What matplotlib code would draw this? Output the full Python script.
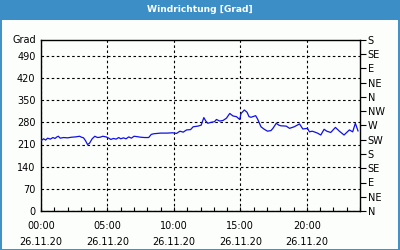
import matplotlib
matplotlib.use('Agg')
import matplotlib.pyplot as plt
from matplotlib.patches import Rectangle
import numpy as np

plt.rcParams['font.family'] = ['DejaVu Sans']

BLUE_BAR = '#3B8FC6'
LINE = '#1010E8'

# ── Data (hours since 00:00, wind direction in degrees) ──
hours = [0.0, 0.2, 0.35, 0.5, 0.7, 0.9, 1.05, 1.2, 1.3, 1.45, 1.7, 2.0, 2.3, 2.6,
         2.9, 3.05, 3.2, 3.35, 3.5, 3.65, 3.85, 4.05, 4.25, 4.45, 4.65, 4.9, 5.1,
         5.25, 5.45, 5.65, 5.85, 6.0, 6.2, 6.4, 6.6, 6.8, 7.0, 7.2, 7.5, 7.8, 8.1,
         8.3, 8.5, 9.0, 9.5, 9.9, 10.2, 10.45, 10.7, 10.95, 11.25, 11.45, 11.8,
         12.05, 12.25, 12.4, 12.55, 12.8, 13.05, 13.2, 13.45, 13.7, 13.95, 14.2,
         14.45, 14.7, 14.95, 15.05, 15.3, 15.5, 15.65, 15.8, 16.15, 16.3, 16.55,
         16.8, 17.05, 17.3, 17.45, 17.7, 17.9, 18.05, 18.45, 18.7, 19.05, 19.45,
         19.7, 20.05, 20.2, 20.4, 20.55, 20.8, 21.05, 21.3, 21.5, 21.8, 22.15,
         22.45, 22.8, 23.2, 23.45, 23.65, 23.85]
direction = [222, 228, 224, 230, 227, 232, 229, 234, 236, 230, 232, 231, 233, 234,
             236, 233, 231, 222, 210, 214, 228, 236, 232, 233, 236, 234, 230,
             226, 229, 227, 232, 228, 231, 228, 234, 230, 236, 235, 233, 232, 232,
             242, 244, 246, 246, 247, 245, 252, 249, 256, 257, 266, 268,
             271, 295, 284, 277, 280, 282, 289, 284, 286, 293, 308,
             300, 298, 289, 308, 319, 312, 298, 296, 301, 290, 266,
             258, 252, 254, 261, 277, 271, 269, 268, 261, 266, 275,
             259, 261, 250, 252, 250, 246, 240, 258, 252, 248, 264,
             252, 240, 256, 250, 277, 253]

left_ticks = [0, 70, 140, 210, 280, 350, 420, 490]
right_ticks = [0, 45, 90, 135, 180, 225, 270, 315, 360, 405, 450, 495, 540]
right_labels = ['N', 'NE', 'E', 'SE', 'S', 'SW', 'W', 'NW', 'N', 'NE', 'E', 'SE', 'S']
x_ticks = [0, 5, 10, 15, 20]
x_labels = ['00:00\n26.11.20', '05:00\n26.11.20', '10:00\n26.11.20',
            '15:00\n26.11.20', '20:00\n26.11.20']

fig = plt.figure(figsize=(4, 2.5), dpi=100, facecolor='#FCFEFC')

# title bar + frame
fig.patches.append(Rectangle((0, 1 - 20 / 250), 1, 20 / 250, transform=fig.transFigure,
                             facecolor=BLUE_BAR, edgecolor='none', zorder=0))
fig.patches.append(Rectangle((0.5 / 400, 0.5 / 250), 1 - 1.5 / 400, 1 - 1.5 / 250,
                             transform=fig.transFigure, facecolor='none',
                             edgecolor=BLUE_BAR, linewidth=1.4, zorder=0))
fig.text(0.5, 1 - 10 / 250, 'Windrichtung [Grad]', ha='center', va='center',
         color='white', fontsize=6.6, fontweight='bold')

ax = fig.add_axes([41 / 400, 1 - 211 / 250, 319 / 400, 171 / 250])
ax.set_facecolor('#FCFEFC')
ax.plot(hours, direction, color=LINE, linewidth=0.9, zorder=3)

ax.set_xlim(0, 24)
ax.set_ylim(0, 540)
ax.set_yticks(left_ticks)
ax.set_xticks(x_ticks)
ax.set_xticklabels(x_labels, linespacing=1.75)
ax.set_xticks(np.arange(0, 25, 1), minor=True)
ax.tick_params(axis='y', length=0, pad=4, labelsize=7, colors='black')
ax.tick_params(axis='x', which='both', direction='in', length=3, width=0.8,
               pad=7, labelsize=7)
ax.grid(True, which='major', color='black', linestyle=(0, (2.3, 2.3)), linewidth=0.8)
for s in ax.spines.values():
    s.set_linewidth(1.0)
    s.set_color('black')

ax.text(-0.015, 1.0, 'Grad', transform=ax.transAxes, ha='right', va='center',
        fontsize=7)

ax2 = ax.twinx()
ax2.set_ylim(0, 540)
ax2.set_yticks(right_ticks)
ax2.set_yticklabels(right_labels)
ax2.tick_params(axis='y', direction='out', length=4, width=0.8, pad=1.5, labelsize=7)
for s in ax2.spines.values():
    s.set_visible(False)

fig.savefig('out.png', dpi=100, facecolor=fig.get_facecolor())
